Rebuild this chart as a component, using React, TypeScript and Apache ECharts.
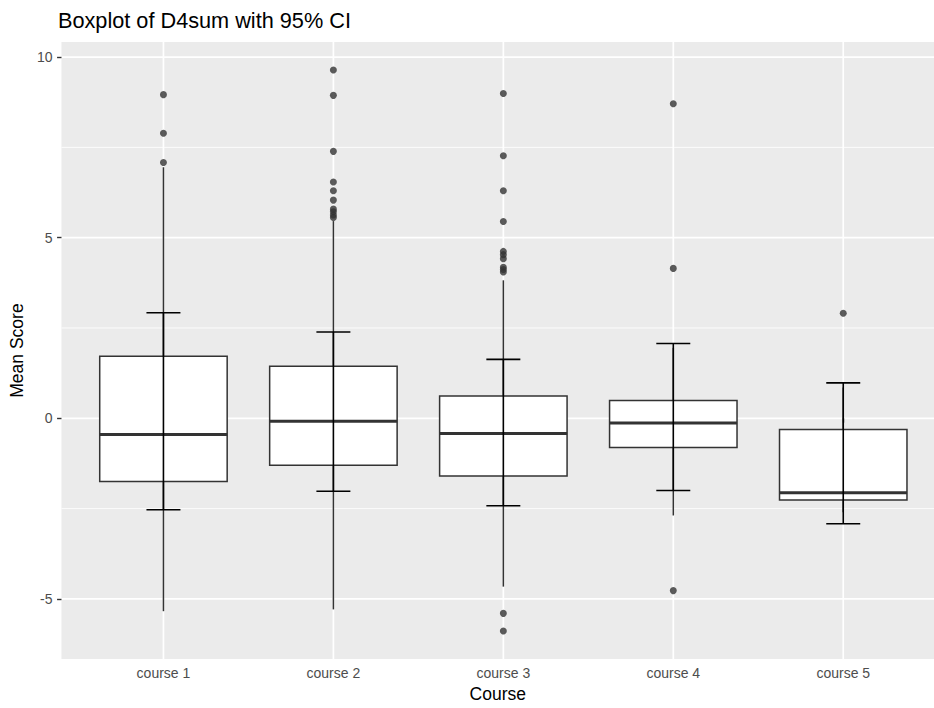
import React, { useEffect, useRef } from "react";
import * as echarts from "echarts";

const FONT = "Liberation Sans, Arial, sans-serif";

const courses = ["course 1", "course 2", "course 3", "course 4", "course 5"];
const lowerWhisker = [-5.34, -5.29, -4.66, -2.69, -2.6];
const q1 = [-1.75, -1.3, -1.6, -0.81, -2.26];
const median = [-0.45, -0.08, -0.42, -0.13, -2.06];
const q3 = [1.72, 1.44, 0.62, 0.49, -0.31];
const upperWhisker = [6.95, 5.46, 3.82, 1.95, 0.85];
const ciLow = [-2.53, -2.02, -2.42, -2.0, -2.92];
const ciHigh = [2.92, 2.39, 1.63, 2.07, 0.98];
const outliers = [
  [8.96, 7.89, 7.08],
  [9.64, 8.94, 7.39, 6.54, 6.3, 6.04, 5.79, 5.72, 5.63, 5.56],
  [8.99, 7.27, 6.3, 5.45, 4.62, 4.53, 4.42, 4.18, 4.12, 4.05, -5.4, -5.89],
  [8.71, 4.15, -4.77],
  [2.91],
];
const yMajorTicks = [-5, 0, 5, 10];
const yMinorTicks = [-2.5, 2.5, 7.5];
const yMin = -6.666;
const yMax = 10.417;
const xMin = 0.4;
const xMax = 5.534;

const BOX_HALF = 0.375;
const CAP_HALF = 0.1;
const xIdx = courses.map((_, i) => i + 1);

export default function App() {
  const ref = useRef<HTMLDivElement>(null);
  useEffect(() => {
    document.body.style.margin = "0";
    document.body.style.overflow = "hidden";
    document.documentElement.style.overflow = "hidden";
    const chart = echarts.init(ref.current!, null, { renderer: "svg" });

    const hLine = (width: number) => (params: any, api: any) => {
      const cs = params.coordSys;
      const y = api.coord([1, api.value(1)])[1];
      return {
        type: "line",
        shape: { x1: cs.x, y1: y, x2: cs.x + cs.width, y2: y },
        style: { stroke: "#FFFFFF", lineWidth: width },
      };
    };

    const option: any = {
      animation: false,
      backgroundColor: "#FFFFFF",
      textStyle: { fontFamily: FONT },
      title: {
        text: "Boxplot of D4sum with 95% CI",
        left: 58,
        top: 9,
        padding: 0,
        textStyle: { fontSize: 21.7, fontWeight: "normal", color: "#000000", fontFamily: FONT },
      },
      grid: {
        left: 57.6,
        top: 42,
        width: 876.4,
        height: 623,
        show: true,
        backgroundColor: "#EBEBEB",
        borderWidth: 0,
      },
      xAxis: {
        type: "value",
        min: xMin,
        max: xMax,
        splitLine: { show: false },
        axisLine: { show: false },
        axisTick: { show: true, customValues: xIdx, length: 4.4, lineStyle: { color: "#333333", width: 1.4 } },
        axisLabel: {
          customValues: xIdx,
          formatter: (v: number) => courses[Math.round(v) - 1] ?? "",
          color: "#4D4D4D",
          fontSize: 14,
          margin: 7,
          fontFamily: FONT,
        },
        name: "Course",
        nameLocation: "middle",
        nameGap: 23,
        nameTextStyle: { fontSize: 17.5, color: "#000000", fontFamily: FONT },
      },
      yAxis: {
        type: "value",
        min: yMin,
        max: yMax,
        splitLine: { show: false },
        axisLine: { show: false },
        axisTick: { show: true, customValues: yMajorTicks, length: 4.4, lineStyle: { color: "#333333", width: 1.4 } },
        axisLabel: {
          customValues: yMajorTicks,
          color: "#4D4D4D",
          fontSize: 14,
          margin: 9,
          fontFamily: FONT,
        },
        name: "Mean Score",
        nameLocation: "middle",
        nameRotate: 90,
        nameGap: 32,
        nameTextStyle: { fontSize: 17.5, color: "#000000", fontFamily: FONT },
      },
      series: [
        {
          type: "custom",
          name: "minorGrid",
          silent: true,
          z: 0,
          data: yMinorTicks.map((v) => [1, v]),
          encode: { x: 0, y: 1 },
          renderItem: hLine(0.85),
        },
        {
          type: "custom",
          name: "majorGridY",
          silent: true,
          z: 0,
          data: yMajorTicks.map((v) => [1, v]),
          encode: { x: 0, y: 1 },
          renderItem: hLine(1.7),
        },
        {
          type: "custom",
          name: "majorGridX",
          silent: true,
          z: 0,
          data: xIdx.map((v) => [v, 0]),
          encode: { x: 0, y: 1 },
          renderItem: (params: any, api: any) => {
            const cs = params.coordSys;
            const x = api.coord([api.value(0), 0])[0];
            return {
              type: "line",
              shape: { x1: x, y1: cs.y, x2: x, y2: cs.y + cs.height },
              style: { stroke: "#FFFFFF", lineWidth: 1.7 },
            };
          },
        },
        {
          type: "custom",
          name: "boxplot",
          z: 2,
          data: xIdx.map((x, i) => [x, lowerWhisker[i], q1[i], median[i], q3[i], upperWhisker[i]]),
          encode: { x: 0, y: [1, 2, 3, 4, 5] },
          renderItem: (params: any, api: any) => {
            const x = api.value(0);
            const lw = api.value(1);
            const a = api.value(2);
            const m = api.value(3);
            const b = api.value(4);
            const uw = api.value(5);
            const tl = api.coord([x - BOX_HALF, b]);
            const br = api.coord([x + BOX_HALF, a]);
            const m1 = api.coord([x - BOX_HALF, m]);
            const m2 = api.coord([x + BOX_HALF, m]);
            const pUW = api.coord([x, uw]);
            const pQ3 = api.coord([x, b]);
            const pQ1 = api.coord([x, a]);
            const pLW = api.coord([x, lw]);
            const st = { stroke: "#333333", lineWidth: 1.5 };
            return {
              type: "group",
              children: [
                { type: "line", shape: { x1: pUW[0], y1: pUW[1], x2: pQ3[0], y2: pQ3[1] }, style: st },
                { type: "line", shape: { x1: pQ1[0], y1: pQ1[1], x2: pLW[0], y2: pLW[1] }, style: st },
                {
                  type: "rect",
                  shape: { x: tl[0], y: tl[1], width: br[0] - tl[0], height: br[1] - tl[1] },
                  style: { fill: "#FFFFFF", stroke: "#333333", lineWidth: 1.5 },
                },
                { type: "line", shape: { x1: m1[0], y1: m1[1], x2: m2[0], y2: m2[1] }, style: { stroke: "#333333", lineWidth: 3 } },
              ],
            };
          },
        },
        {
          type: "scatter",
          name: "outliers",
          z: 3,
          symbol: "circle",
          symbolSize: 7,
          itemStyle: { color: "#333333" },
          data: outliers.flatMap((vals, i) => vals.map((v) => [i + 1, v])),
        },
        {
          type: "custom",
          name: "ci",
          z: 4,
          data: xIdx.map((x, i) => [x, ciLow[i], ciHigh[i]]),
          encode: { x: 0, y: [1, 2] },
          renderItem: (params: any, api: any) => {
            const x = api.value(0);
            const lo = api.value(1);
            const hi = api.value(2);
            const pLo = api.coord([x, lo]);
            const pHi = api.coord([x, hi]);
            const l1 = api.coord([x - CAP_HALF, lo]);
            const l2 = api.coord([x + CAP_HALF, lo]);
            const h1 = api.coord([x - CAP_HALF, hi]);
            const h2 = api.coord([x + CAP_HALF, hi]);
            const st = { stroke: "#000000", lineWidth: 1.6 };
            return {
              type: "group",
              children: [
                { type: "line", shape: { x1: pLo[0], y1: pLo[1], x2: pHi[0], y2: pHi[1] }, style: st },
                { type: "line", shape: { x1: l1[0], y1: l1[1], x2: l2[0], y2: l2[1] }, style: st },
                { type: "line", shape: { x1: h1[0], y1: h1[1], x2: h2[0], y2: h2[1] }, style: st },
              ],
            };
          },
        },
      ],
    };
    chart.setOption(option);
    return () => chart.dispose();
  }, []);
  return (
    <div style={{ position: "fixed", left: 0, top: 0, width: 934, height: 708, overflow: "hidden" }}>
      <div ref={ref} style={{ width: 934, height: 708 }} />
    </div>
  );
}
